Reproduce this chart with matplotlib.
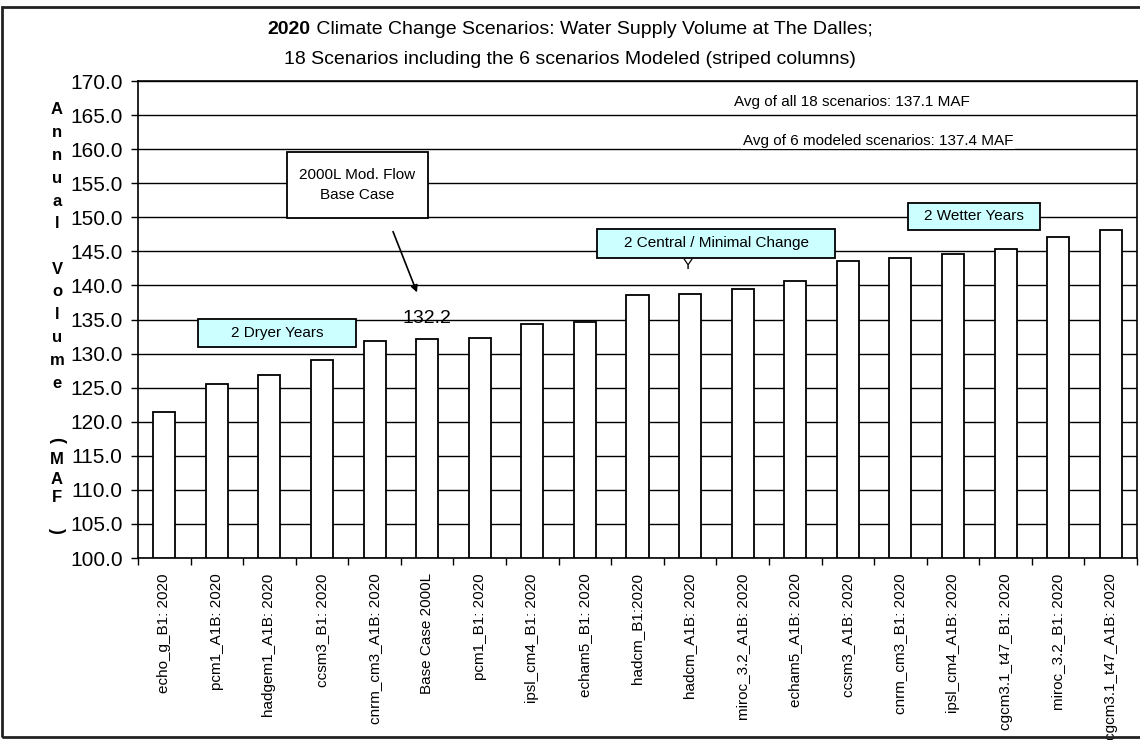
import numpy as np
import matplotlib
matplotlib.use("Agg")
import matplotlib.pyplot as plt
from matplotlib.patches import Rectangle

plt.rcParams['font.family'] = ['Liberation Sans', 'DejaVu Sans']

# data
scenarios = ["echo_g_B1: 2020", "pcm1_A1B: 2020", "hadgem1_A1B: 2020", "ccsm3_B1: 2020",
             "cnrm_cm3_A1B: 2020", "Base Case 2000L", "pcm1_B1: 2020", "ipsl_cm4_B1: 2020",
             "echam5_B1: 2020", "hadcm_B1:2020", "hadcm_A1B: 2020", "miroc_3.2_A1B: 2020",
             "echam5_A1B: 2020", "ccsm3_A1B: 2020", "cnrm_cm3_B1: 2020", "ipsl_cm4_A1B: 2020",
             "cgcm3.1_t47_B1: 2020", "miroc_3.2_B1: 2020", "cgcm3.1_t47_A1B: 2020"]
volumes = [121.4, 125.5, 126.9, 129.0, 131.8, 132.2, 132.3, 134.3, 134.7, 138.6,
           138.8, 139.5, 140.7, 143.6, 144.0, 144.6, 145.4, 147.1, 148.1]
base_idx = 5
avg_all = 137.1
avg_modeled = 137.4
y_min, y_max, y_step = 100.0, 170.0, 5.0

W, H = 1140, 740
fig = plt.figure(figsize=(W / 100, H / 100), dpi=100)
fig.patch.set_facecolor("white")
# outer chart border (right side falls off the picture, as in the original)
fig.patches.append(Rectangle((2 / W, 3 / H), 1.2, 1 - 10 / H, transform=fig.transFigure,
                             fill=False, edgecolor="#222222", linewidth=2))

ax_l, ax_r, ax_t, ax_b = 138, 1137, 81, 558
ax = fig.add_axes([ax_l / W, 1 - ax_b / H, (ax_r - ax_l) / W, (ax_b - ax_t) / H])

x = np.arange(len(scenarios))
ax.bar(x, np.array(volumes) - y_min, bottom=y_min, width=0.42, color="white",
       edgecolor="black", linewidth=1.3, zorder=3)

ax.set_xlim(-0.5, len(scenarios) - 0.5)
ax.set_ylim(y_min, y_max)
yt = np.arange(y_min, y_max + 0.1, y_step)
ax.set_yticks(yt)
ax.set_yticklabels([f"{v:.1f}" for v in yt], fontsize=15)
ax.yaxis.grid(True, color="black", linewidth=1.0, zorder=0)
ax.set_axisbelow(True)
ax.tick_params(axis="y", length=5, width=1, pad=6)

ax.set_xticks(x)
ax.set_xticklabels(scenarios, rotation=90, fontsize=11)
ax.set_xticks(np.arange(-0.5, len(scenarios)), minor=True)
ax.tick_params(axis="x", which="major", length=0, pad=11)
ax.tick_params(axis="x", which="minor", length=5, width=1)
for s in ax.spines.values():
    s.set_linewidth(1.2)

# stacked y label, rotated parentheses as in the original
ylab_top = "Annual Volume"
for i, ch in enumerate(ylab_top):
    if ch != " ":
        fig.text(57 / W, 1 - (110 + i * 22.75) / H, ch, fontsize=12, fontweight="bold",
                 ha="center", va="center")
for ch, ypix in zip("MAF", [460, 479, 498]):
    fig.text(57 / W, 1 - ypix / H, ch, fontsize=12, fontweight="bold", ha="center", va="center")
for ch, ypix in zip("()", [440, 530]):
    fig.text(57 / W, 1 - ypix / H, ch, fontsize=13, fontweight="bold", ha="center", va="center",
             rotation=-90)

# title with bold year
r = fig.canvas.get_renderer()
def title_line(parts, ypix, size=14):
    texts = [fig.text(0, 1 - ypix / H, s, fontsize=size, fontweight=w, va="center")
             for s, w in parts]
    widths = [t.get_window_extent(r).width for t in texts]
    x0 = W / 2 - sum(widths) / 2
    for t, w in zip(texts, widths):
        t.set_x(x0 / W)
        x0 += w

title_line([("2020", "bold"), (" Climate Change Scenarios: Water Supply Volume at The Dalles;", "normal")], 30)
title_line([("18 Scenarios including the 6 scenarios Modeled (striped columns)", "normal")], 60)

def px_ax(px, py):
    return (px - ax_l) / (ax_r - ax_l), (ax_b - py) / (ax_b - ax_t)

def box(x0, y0, x1, y1, text, face):
    a0 = px_ax(x0, y1)
    a1 = px_ax(x1, y0)
    ax.add_patch(Rectangle(a0, a1[0] - a0[0], a1[1] - a0[1], transform=ax.transAxes,
                           facecolor=face, edgecolor="black", linewidth=1.3, zorder=5))
    ax.text((a0[0] + a1[0]) / 2, (a0[1] + a1[1]) / 2, text, transform=ax.transAxes,
            ha="center", va="center", fontsize=11, zorder=6, linespacing=1.6)

box(287, 152, 428, 218, "2000L Mod. Flow\nBase Case", "white")
box(198, 319, 356, 347, "2 Dryer Years", "#CCFFFF")
box(597, 229, 835, 258, "2 Central / Minimal Change", "#CCFFFF")
box(908, 203, 1040, 230, "2 Wetter Years", "#CCFFFF")

ax.text(*px_ax(688, 265), "Y", transform=ax.transAxes, ha="center", va="center", fontsize=11, zorder=6)

ax.text(*px_ax(852, 102), f"Avg of all 18 scenarios: {avg_all:.1f} MAF", transform=ax.transAxes,
        ha="center", va="center", fontsize=11, zorder=6,
        bbox=dict(facecolor="white", edgecolor="none", pad=1))
ax.text(*px_ax(878, 141), f"Avg of 6 modeled scenarios: {avg_modeled:.1f} MAF", transform=ax.transAxes,
        ha="center", va="center", fontsize=11, zorder=6,
        bbox=dict(facecolor="white", edgecolor="none", pad=1))

# base case value label and arrow
ax.text(base_idx, volumes[base_idx] + 3.0, f"{volumes[base_idx]:.1f}", ha="center", va="center",
        fontsize=14, zorder=6)
ax.annotate("", xy=px_ax(418, 295), xytext=px_ax(392, 229), xycoords="axes fraction",
            textcoords="axes fraction",
            arrowprops=dict(arrowstyle="-|>", color="black", lw=1.2, mutation_scale=10), zorder=6)

fig.savefig("out.png", dpi=100)
